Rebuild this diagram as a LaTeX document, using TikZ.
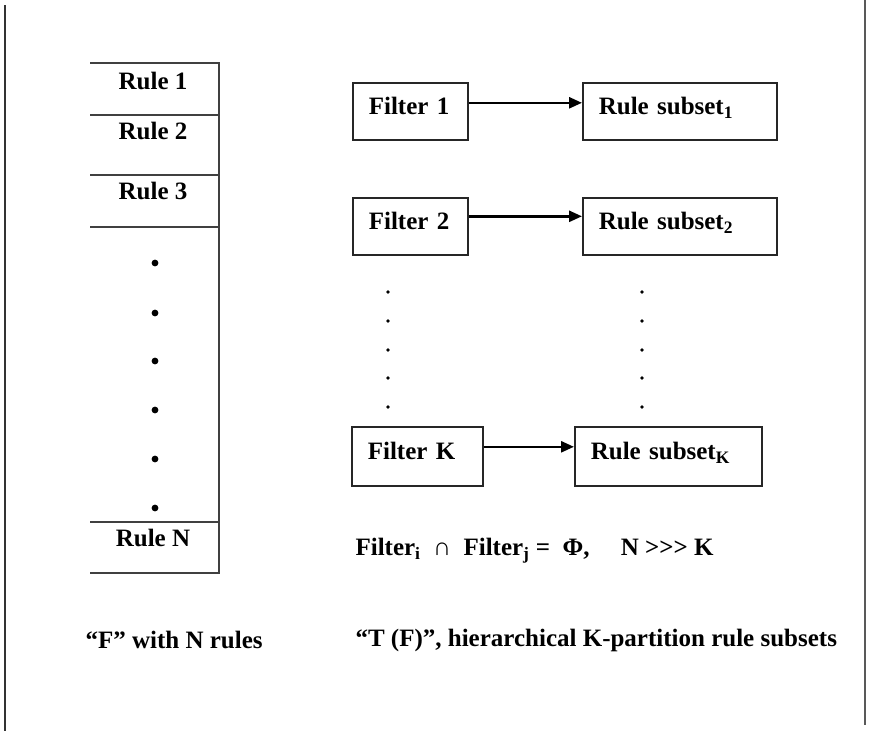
\documentclass[tikz,border=0pt]{standalone}
\usepackage{fontspec}
\setmainfont{Liberation Serif}
\usepackage{tikz}
\usetikzlibrary{arrows.meta}
\tikzstyle{fbox} = [draw, line width=1.6pt, draw=black!85, anchor=north west, minimum height=57pt, inner xsep=16pt, inner ysep=0pt, align=left, text height=17pt, text depth=10pt]
\tikzstyle{flow} = [line width=2.6pt, -{Triangle[length=13pt,width=11pt]}]
\tikzstyle{rowline} = [line width=1.6pt, black!75]

\begin{document}
\begin{tikzpicture}[
            x=1pt, y=-1pt,
            every node/.style={font=\fontsize{25}{30}\selectfont\bfseries}
        ]
            \useasboundingbox (0,0) rectangle (870,731);
            \draw[line width=2.2pt, black!80] (5,5) -- (5,731);
            \draw[line width=1.5pt, black!65] (865,0) -- (865,725);

            % rule table F
            \draw[rowline] (90,63) -- (219,63) -- (219,573) -- (90,573);
            \foreach \y in {115,175,227,522}
                \draw[rowline] (90,\y) -- (219,\y);
            \node (rule1) at (153,81) {Rule 1};
            \node (rule2) at (153,131) {Rule 2};
            \node (rule3) at (153,191) {Rule 3};
            \node (ruleN) at (153,538) {Rule N};
            \foreach \y in {263,313,361,410,459,508}
                \fill (155,\y) circle (3.4pt);

            % filters and rule subsets
            \node[fbox, text width=83pt] (filter1) at (352,82) {Filter 1};
            \node[fbox, text width=162pt] (subset1) at (582,82) {Rule subset\textsubscript{1}};
            \node[fbox, text width=83pt] (filter2) at (352,197) {Filter 2};
            \node[fbox, text width=162pt] (subset2) at (582,197) {Rule subset\textsubscript{2}};
            \node[fbox, text width=99pt, minimum height=59pt] (filterK) at (351,426) {Filter K};
            \node[fbox, text width=155pt, minimum height=59pt] (subsetK) at (574,426) {Rule subset\textsubscript{K}};

            \draw[flow] ([yshift=8.5pt]filter1.east) -- ([yshift=8.5pt]subset1.west);
            \draw[flow] ([yshift=10pt]filter2.east) -- ([yshift=10pt]subset2.west);
            \draw[flow] ([yshift=9.5pt]filterK.east) -- ([yshift=9.5pt]subsetK.west);

            \foreach \y in {292,321,350,378,407} {
                \fill (388,\y) circle (1.9pt);
                \fill (642,\y) circle (1.9pt);
            }

            \node[anchor=west] (cond) at (352,551) {Filter\textsubscript{i}~~∩~~Filter\textsubscript{j} =~~Φ,\quad~N >\kern0pt>\kern0pt> K};

            % captions
            \node[anchor=west] (capF) at (82,640) {``F'' with N rules};
            \node[anchor=west] (capT) at (352,640) {``T (F)'', hierarchical K-partition rule subsets};
        \end{tikzpicture}
\end{document}
